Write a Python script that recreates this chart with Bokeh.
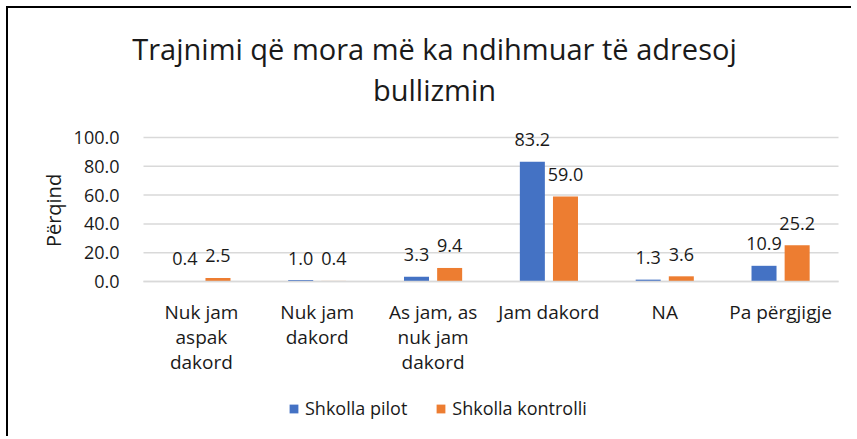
from bokeh.plotting import figure
from bokeh.models import (ColumnDataSource, Range1d, FixedTicker, Label,
                          Legend, LegendItem, CustomJSTickFormatter)
from bokeh.transform import dodge
from bokeh.core.properties import value
from bokeh.embed import file_html
from bokeh.resources import INLINE

# ---- data ----
categories = ["Nuk jam\naspak\ndakord", "Nuk jam\ndakord", "As jam, as\nnuk jam\ndakord",
              "Jam dakord", "NA", "Pa përgjigje"]
pilot = [0.4, 1.0, 3.3, 83.2, 1.3, 10.9]
kontrolli = [2.5, 0.4, 9.4, 59.0, 3.6, 25.2]
series_names = ["Shkolla pilot", "Shkolla kontrolli"]
y_ticks = [0, 20, 40, 60, 80, 100]
title_lines = ["Trajnimi që mora më ka ndihmuar të adresoj", "bullizmin"]
y_label = "Përqind"

BLUE = "#4472C4"
ORANGE = "#ED7D31"
GRID = "#d9d9d9"
FONT = "Open Sans"
TXT = "#1a1a1a"

# ---- layout geometry (page pixels) ----
ORIG_X, ORIG_Y = 8, 8          # canvas top-left on the page
W, H = 845, 430                # canvas size
PLOT_L, PLOT_R = 143, 838      # category area left/right
Y0, Y100 = 281, 137            # pixel rows of 0 and 100
ppu_x = (PLOT_R - PLOT_L) / len(categories)
ppu_y = (Y0 - Y100) / 100.0

def dx(px):
    return (px - PLOT_L) / ppu_x

def dy(py):
    return (Y0 - py) / ppu_y

src = ColumnDataSource(dict(
    xc=[i + 0.5 for i in range(len(categories))],
    pilot=pilot,
    kontrolli=kontrolli,
    pilot_lbl=[f"{v:.1f}" for v in pilot],
    kontrolli_lbl=[f"{v:.1f}" for v in kontrolli],
))

p = figure(x_range=Range1d(dx(ORIG_X), dx(ORIG_X + W)),
           y_range=Range1d(dy(ORIG_Y + H), dy(ORIG_Y)),
           width=W, height=H,
           output_backend="svg", toolbar_location=None,
           min_border=0)
p.styles = {"margin-left": f"{ORIG_X - 2}px", "margin-top": f"{ORIG_Y - 2}px",
            "border-left": "2px solid #000", "border-top": "2px solid #000"}
p.outline_line_color = None
p.background_fill_color = "white"
p.border_fill_color = "white"
p.xgrid.grid_line_color = None
p.ygrid.grid_line_color = None

# gridlines limited to category area
n = len(categories)
p.segment(x0=[0] * len(y_ticks), x1=[n] * len(y_ticks), y0=y_ticks, y1=y_ticks,
          line_color=GRID, line_width=1.5)

off = 0.143
w = 0.216
r1 = p.vbar(x=dodge("xc", -off), top="pilot", width=w, source=src,
            fill_color=BLUE, line_color=None)
r2 = p.vbar(x=dodge("xc", off), top="kontrolli", width=w, source=src,
            fill_color=ORANGE, line_color=None)

for col, lbl, d in (("pilot", "pilot_lbl", -off), ("kontrolli", "kontrolli_lbl", off)):
    p.text(x=dodge("xc", d), y=col, text=lbl, source=src,
           y_offset=-22, text_align="center", text_baseline="middle",
           text_font=value(FONT), text_font_size="18px", text_color=TXT)

# y axis fixed at the left edge of the category area
ya = p.yaxis[0]
ya.fixed_location = 0
ya.bounds = (0, 100)
ya.ticker = FixedTicker(ticks=y_ticks)
ya.formatter = CustomJSTickFormatter(code="return tick.toFixed(1);")
ya.axis_line_color = None
ya.major_tick_line_color = None
ya.minor_tick_line_color = None
ya.major_label_standoff = 18
ya.major_label_text_font = FONT
ya.major_label_text_font_size = "18px"
ya.major_label_text_color = TXT

# x axis fixed at y = 0
xa = p.xaxis[0]
xa.fixed_location = 0
xa.bounds = (0, n)
xa.ticker = FixedTicker(ticks=[i + 0.5 for i in range(n)])
xa.formatter = CustomJSTickFormatter(args=dict(labels=categories),
                                     code="return labels[Math.floor(tick)];")
xa.axis_line_color = GRID
xa.axis_line_width = 1.5
xa.major_tick_line_color = None
xa.minor_tick_line_color = None
xa.major_label_standoff = 11
xa.major_label_text_font = FONT
xa.major_label_text_font_size = "19px"
xa.major_label_text_color = TXT
xa.major_label_text_line_height = 0.98
xa.major_label_orientation = "horizontal"

# title and axis label
p.add_layout(Label(x=dx(434), y=dy(48), text=title_lines[0], text_align="center",
                   text_baseline="middle", text_font=FONT, text_font_size="29px",
                   text_color=TXT))
p.add_layout(Label(x=dx(434), y=dy(89), text=title_lines[1], text_align="center",
                   text_baseline="middle", text_font=FONT, text_font_size="29px",
                   text_color=TXT))
p.add_layout(Label(x=dx(53), y=dy(210), text=y_label, angle=1.5708, text_align="center",
                   text_baseline="middle", text_font=FONT, text_font_size="20px",
                   text_color=TXT))

legend = Legend(items=[LegendItem(label=series_names[0], renderers=[r1]),
                       LegendItem(label=series_names[1], renderers=[r2])],
                orientation="horizontal",
                location=(288 - ORIG_X, (ORIG_Y + H) - 420),
                glyph_width=11, glyph_height=11, label_height=20, label_standoff=6,
                spacing=28, padding=0, margin=0, border_line_color=None,
                background_fill_alpha=0, label_text_font=FONT,
                label_text_font_size="18px", label_text_color=TXT)
p.add_layout(legend)

open("out.html", "w").write(file_html(p, INLINE))
